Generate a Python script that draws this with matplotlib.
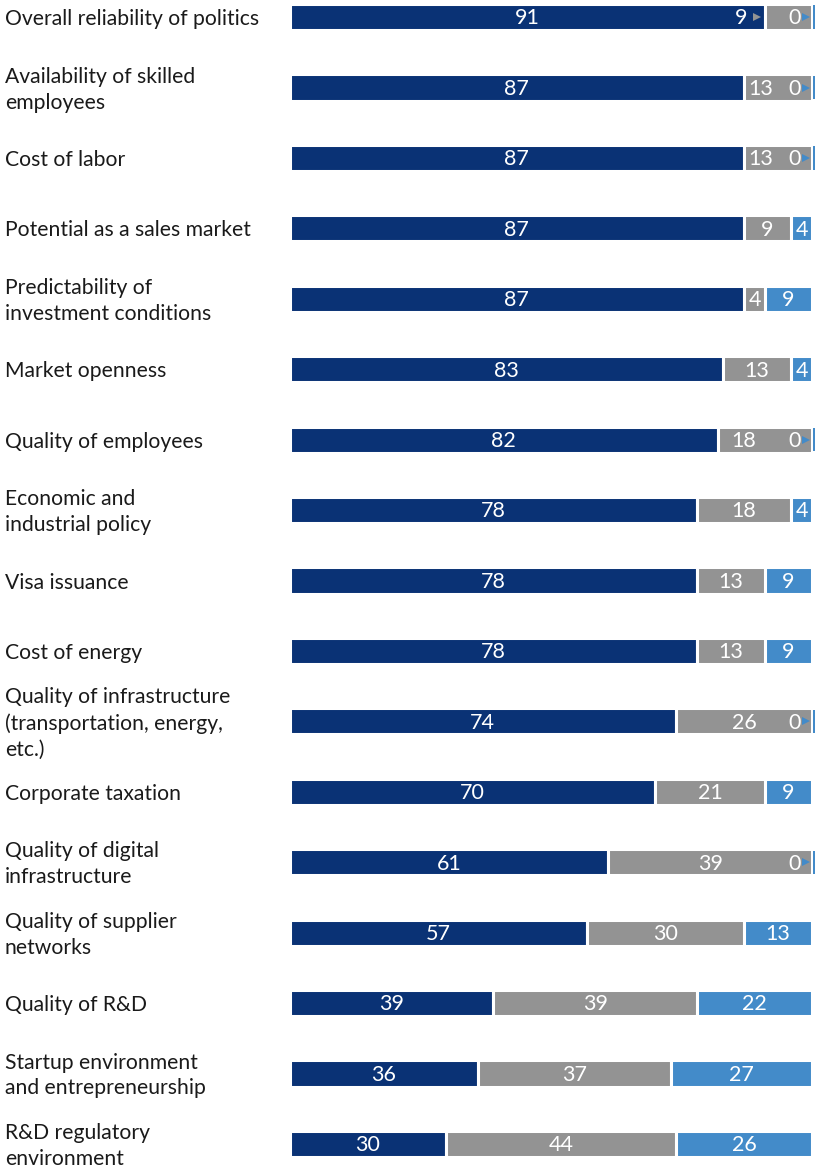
import matplotlib.pyplot as plt
from matplotlib.transforms import blended_transform_factory

plt.rcParams['font.family'] = ['Lato', 'DejaVu Sans']

categories = [
    'Overall reliability of politics',
    'Availability of skilled\nemployees',
    'Cost of labor',
    'Potential as a sales market',
    'Predictability of\ninvestment conditions',
    'Market openness',
    'Quality of employees',
    'Economic and\nindustrial policy',
    'Visa issuance',
    'Cost of energy',
    'Quality of infrastructure\n(transportation, energy,\netc.)',
    'Corporate taxation',
    'Quality of digital\ninfrastructure',
    'Quality of supplier\nnetworks',
    'Quality of R&D',
    'Startup environment\nand entrepreneurship',
    'R&D regulatory\nenvironment',
]
good = [91, 87, 87, 87, 87, 83, 82, 78, 78, 78, 74, 70, 61, 57, 39, 36, 30]
neutral = [9, 13, 13, 9, 4, 13, 18, 18, 13, 13, 26, 21, 39, 30, 39, 37, 44]
poor = [0, 0, 0, 4, 9, 4, 0, 4, 9, 9, 0, 9, 0, 13, 22, 27, 26]

c_good = '#0a3275'
c_neutral = '#939393'
c_poor = '#438bc9'

W, H = 821, 1167
fig = plt.figure(figsize=(W / 100, H / 100), dpi=100)
ax = fig.add_axes([289.5 / W, 1 - 1158 / H, (812 - 289.5) / W, (1158 - 3) / H])
ax.set_xlim(0, 100)
ax.set_ylim(16.2, -0.2)
ax.axis('off')

ypos = list(range(len(categories)))
bh = 0.37
edge = dict(edgecolor='white', linewidth=2.2)

ax.barh(ypos, good, height=bh, color=c_good, **edge)
ax.barh(ypos, neutral, left=good, height=bh, color=c_neutral, **edge)
lefts = [g + n for g, n in zip(good, neutral)]
for y, l, p in zip(ypos, lefts, poor):
    if p > 0:
        ax.barh(y, p, left=l, height=bh, color=c_poor, **edge)
    else:
        # zero share: thin sliver at the end of the bar
        ax.barh(y, 0.5, left=l + 0.15, height=bh - 0.04, color=c_poor,
                linewidth=0, clip_on=False)

fs = 15.5
txt = dict(color='white', fontsize=fs, va='center', ha='center')


def pointer(x, y, color):
    ax.plot(x, y, marker='>', ms=6, color=color, mew=0)


for y, g, n, p in zip(ypos, good, neutral, poor):
    ax.text(g / 2, y + 0.02, str(g), **txt)
    if p == 0:
        zx = 96.6
        ax.text(zx, y + 0.02, '0', **txt)
        pointer(zx + 2.3, y, c_poor)
        if n < 10:
            # no room left in the segment: label sits before it with a pointer
            nx = g - 4.6
            ax.text(nx, y + 0.02, str(n), **txt)
            pointer(nx + 3.0, y, c_neutral)
        else:
            nx = g + min(n / 2, max(3.2, n - 13))
            ax.text(nx, y + 0.02, str(n), **txt)
    else:
        ax.text(g + n / 2, y + 0.02, str(n), **txt)
        ax.text(g + n + p / 2, y + 0.02, str(p), **txt)

trans = blended_transform_factory(fig.transFigure, ax.transData)
for y, lab in zip(ypos, categories):
    ax.text(5 / W, y + 0.03, lab, transform=trans, ha='left', va='center',
            fontsize=15.2, color='#1a1a1a', linespacing=1.36)

fig.savefig('out.png', dpi=100)
